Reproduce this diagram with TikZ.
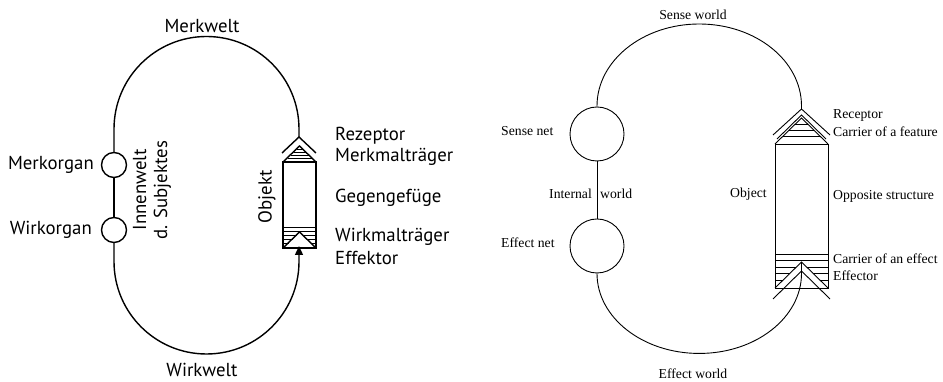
\documentclass[tikz,border=0pt]{standalone}
\usepackage{fontspec}
\newfontfamily\sansde{PT Sans}
\newfontfamily\serifen{Liberation Serif}
\usetikzlibrary{arrows.meta}
\tikzset{
  lbl/.style={inner sep=0pt, font=\sansde\fontsize{18.8}{21}\selectfont},
  lbr/.style={inner sep=0pt, font=\serifen\fontsize{13.7}{15}\selectfont},
  thickl/.style={line width=1.4pt},
  thinr/.style={line width=0.9pt},
  hatchl/.style={line width=0.7pt},
  hatchr/.style={line width=0.7pt},
  organl/.style={circle, draw, thickl, minimum size=25pt, inner sep=0pt},
  organr/.style={circle, draw, thinr, minimum size=54pt, inner sep=0pt},
}
\begin{document}
\begin{tikzpicture}[x=1pt,y=1pt]
\fill[white] (0,0) rectangle (943,382);
\useasboundingbox (0,0) rectangle (943,382);

% ================= LEFT =================
\node[organl] (merk) at (114,217) {};
\node[organl] (wirk) at (114,152) {};
\coordinate (lrez) at (299,245);
\coordinate (leff) at (299,136);
\draw[thickl] (merk.north) -- (114,253) arc[start angle=180,end angle=0,radius=92.5] -- (lrez);
\draw[thickl] (merk.south) -- (wirk.north);
\draw[thickl,-{Triangle[length=9pt,width=8pt]}] (wirk.south) -- (114,120.5) arc[start angle=180,end angle=360,radius=92.5] -- (leff);
% object
\draw[thickl] (282,229) -- (lrez) -- (316,229);
\draw[thickl] (283,220) -- (299.5,236) -- (316,220);
\foreach \y/\w in {233/3,230/6,227/9,224/12} \draw[hatchl] (299.5-\w,\y) -- (299.5+\w,\y);
\node[draw, thickl, minimum width=33pt, minimum height=86pt, inner sep=0pt] (lobj) at (299.5,177) {};
\draw[thickl] (283,134) -- (299.5,150) -- (316,134);
\foreach \y in {155,151} \draw[hatchl] (283,\y) -- (316,\y);
\foreach \y/\w in {147/3,143/7,139/11,135/15} {\draw[hatchl] (283,\y) -- (299.5-\w,\y); \draw[hatchl] (299.5+\w,\y) -- (316,\y);}
% labels
\node[lbl] (merkwelt) at (202,356) {Merkwelt};
\node[lbl] (wirkwelt) at (202,12) {Wirkwelt};
\node[lbl, anchor=east] (merkorgan) at (94,217) {Merkorgan};
\node[lbl, anchor=east] (wirkorgan) at (92,152) {Wirkorgan};
\node[lbl, rotate=90, align=center] (innen) at (152,192) {Innenwelt\\d. Subjektes};
\node[lbl, rotate=90] (objekt) at (267,185) {Objekt};
\node[lbl, anchor=west] (rez) at (335,246) {Rezeptor};
\node[lbl, anchor=west] (mmt) at (335,225) {Merkmalträger};
\node[lbl, anchor=west] (gg) at (335,184) {Gegengefüge};
\node[lbl, anchor=west] (wmt) at (335,145) {Wirkmalträger};
\node[lbl, anchor=west] (eff) at (335,124) {Effektor};

% ================= RIGHT =================
\node[organr] (sense) at (597,248) {};
\node[organr] (effn) at (597,136) {};
\coordinate (rrez) at (801.5,273);
\coordinate (reff) at (801.5,119);
\draw[thinr] (sense.north) -- (597,276) arc[start angle=180,end angle=0,x radius=102.25,y radius=82] -- (rrez);
\draw[thinr] (sense.south) -- (effn.north);
\draw[thinr] (effn.south) arc[start angle=180,end angle=360,x radius=102.25,y radius=80] -- (reff);
% object
\draw[thinr] (773,247) -- (rrez) -- (830,247);
\draw[thinr] (777,243) -- (801.5,267) -- (826,243);
\draw[thinr] (775,238) -- (801.5,264) -- (828,238);
\foreach \y/\w in {258/6.1,252/12.2,246/18.3} \draw[hatchr] (801.5-\w,\y) -- (801.5+\w,\y);
\node[draw, thinr, minimum width=53pt, minimum height=144pt, inner sep=0pt] (robj) at (801.5,166) {};
\foreach \y in {128,122} \draw[hatchr] (775,\y) -- (828,\y);
\draw[thinr] (775,94) -- (801.5,120) -- (828,94);
\foreach \y/\w in {115/5.1,109/11.2,102/18.3} {\draw[hatchr] (775,\y) -- (801.5-\w,\y); \draw[hatchr] (801.5+\w,\y) -- (828,\y);}
\draw[thinr] (773,83) -- (801.5,111) -- (830,83);
% labels
\node[lbr] (senseworld) at (693,367) {Sense world};
\node[lbr] (effworld) at (693,8) {Effect world};
\node[lbr, anchor=west] (sensenet) at (501,251) {Sense net};
\node[lbr, anchor=west] (effnet) at (501,139) {Effect net};
\node[lbr, anchor=east] (internal) at (592,188) {Internal};
\node[lbr, anchor=west] (iworld) at (600,188) {world};
\node[lbr] (object) at (748.5,188) {Object};
\node[lbr, anchor=west] (receptor) at (833,267) {Receptor};
\node[lbr, anchor=west] (cfeat) at (833,250) {Carrier of a feature};
\node[lbr, anchor=west] (opp) at (833,186) {Opposite structure};
\node[lbr, anchor=west] (ceff) at (833,123) {Carrier of an effect};
\node[lbr, anchor=west] (effector) at (833,106) {Effector};
\end{tikzpicture}
\end{document}
